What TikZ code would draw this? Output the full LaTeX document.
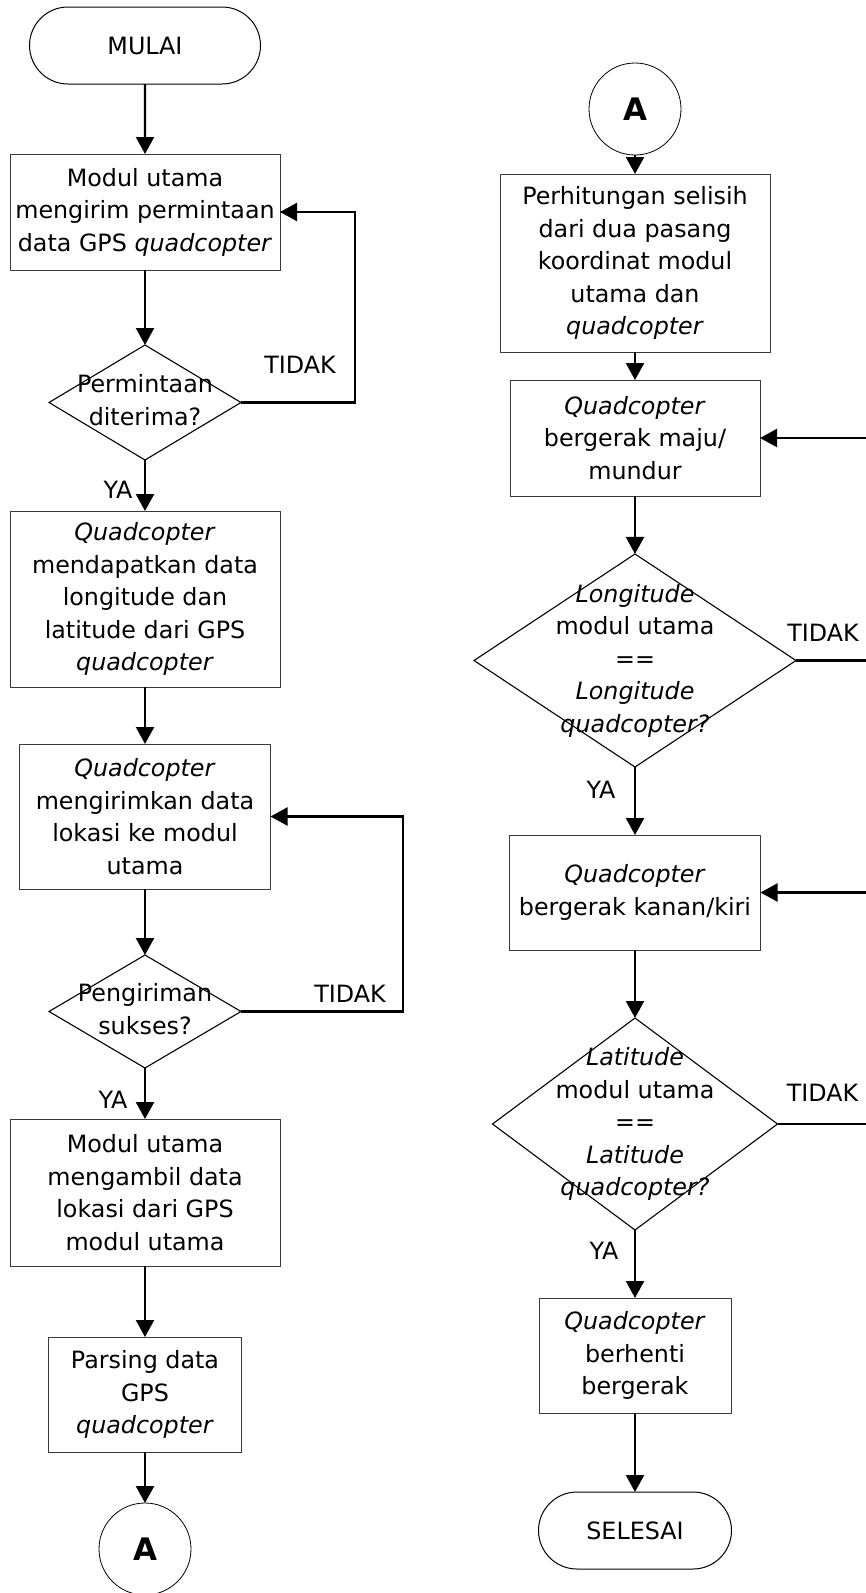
\documentclass[tikz,border=0pt]{standalone}
\usepackage{fontspec}
\setmainfont{DejaVu Sans}
\usepackage{xcolor}
\usepackage{tikz}
\usetikzlibrary{calc,positioning,shapes.geometric,shapes.misc,arrows.meta}
\definecolor{BoxLine}{HTML}{3A3A3A}
\definecolor{FlowLine}{HTML}{000000}
\newcommand{\flowfont}{\fontsize{23.8}{32.5}\selectfont}
\newcommand{\dtext}[1]{\vbox to 0pt{\vss\hbox to 0pt{\hss\begin{tabular}{@{}c@{}}#1\end{tabular}\hss}\vss}}

\begin{document}
\begin{tikzpicture}[x=1pt, y=-1pt,
    proc/.style={draw=BoxLine, line width=0.9pt, rectangle, align=center, inner sep=0pt, outer sep=0pt, font=\flowfont},
    dec/.style={draw=black, line width=1.1pt, diamond, inner sep=0pt, outer sep=0pt, font=\flowfont},
    term/.style={draw=black, line width=1pt, rounded rectangle, minimum width=231pt, minimum height=77pt, inner sep=0pt, outer sep=0pt, font=\flowfont},
    konek/.style={draw=black, line width=0.8pt, circle, minimum size=92pt, inner sep=0pt, outer sep=0pt, font=\bfseries\fontsize{31}{36}\selectfont},
    flow/.style={draw=FlowLine, line width=2.2pt, -{Triangle[width=18pt,length=17pt]}},
    lbl/.style={inner sep=0pt, font=\flowfont}]
        \clip (0,0) rectangle (866,1593);
        % kolom kiri
        \node[term] (mulai) at (145,45.5) {MULAI};
        \node[proc, minimum width=270pt, minimum height=116pt, below=70pt of mulai] (kirim) {Modul utama\\mengirim permintaan\\data GPS \textit{quadcopter}};
        \node[dec, minimum width=192pt, minimum height=115pt, below=75pt of kirim] (terima) {\dtext{Permintaan\\diterima?}};
        \node[proc, minimum width=270pt, minimum height=176pt, below=51pt of terima] (dapat) {\textit{Quadcopter}\\mendapatkan data\\longitude dan\\latitude dari GPS\\\textit{quadcopter}};
        \node[proc, minimum width=251pt, minimum height=145pt, below=57pt of dapat] (kirimlok) {\textit{Quadcopter}\\mengirimkan data\\lokasi ke modul\\utama};
        \node[dec, minimum width=192pt, minimum height=113pt, below=66pt of kirimlok] (sukses) {\dtext{Pengiriman\\sukses?}};
        \node[proc, minimum width=270pt, minimum height=147pt, below=51pt of sukses] (ambil) {Modul utama\\mengambil data\\lokasi dari GPS\\modul utama};
        \node[proc, minimum width=193pt, minimum height=115pt, below=71pt of ambil] (parsing) {Parsing data\\GPS\\\textit{quadcopter}};
        \node[konek, below=51pt of parsing] (konA) {A};
        % kolom kanan
        \node[konek] (konB) at (635,109) {A};
        \node[proc, minimum width=270pt, minimum height=178pt, below=19pt of konB] (selisih) {Perhitungan selisih\\dari dua pasang\\koordinat modul\\utama dan\\\textit{quadcopter}};
        \node[proc, minimum width=250pt, minimum height=116pt, below=28pt of selisih] (maju) {\textit{Quadcopter}\\bergerak maju/\\mundur};
        \node[dec, minimum width=322pt, minimum height=213pt, below=58pt of maju] (bujur) {\dtext{\textit{Longitude}\\modul utama\\==\\\textit{Longitude}\\\textit{quadcopter?}}};
        \node[proc, minimum width=251pt, minimum height=115pt, below=68pt of bujur] (kanan) {\textit{Quadcopter}\\bergerak kanan/kiri};
        \node[dec, minimum width=285pt, minimum height=212pt, below=68pt of kanan] (lintang) {\dtext{\textit{Latitude}\\modul utama\\==\\\textit{Latitude}\\\textit{quadcopter?}}};
        \node[proc, minimum width=192pt, minimum height=115pt, below=68pt of lintang] (henti) {\textit{Quadcopter}\\berhenti\\bergerak};
        \node[term, minimum width=193pt, below=79pt of henti] (selesai) {SELESAI};

        \draw[flow] (mulai) -- (kirim);
        \draw[flow] (kirim) -- (terima);
        \draw[flow] (terima) -- (dapat);
        \draw[flow] (dapat) -- (kirimlok);
        \draw[flow] (kirimlok) -- (sukses);
        \draw[flow] (sukses) -- (ambil);
        \draw[flow] (ambil) -- (parsing);
        \draw[flow] (parsing) -- (konA);
        \draw[flow] (terima.east) -- ++(114,0) |- (kirim.east);
        \draw[flow] (sukses.east) -- ++(162,0) |- (kirimlok.east);

        \draw[flow] (konB) -- (selisih);
        \draw[flow] (selisih) -- (maju);
        \draw[flow] (maju) -- (bujur);
        \draw[flow] (bujur) -- (kanan);
        \draw[flow] (kanan) -- (lintang);
        \draw[flow] (lintang) -- (henti);
        \draw[flow] (henti) -- (selesai);
        \draw[flow] (bujur.east) -- ++(90,0) |- (maju.east);
        \draw[flow] (lintang.east) -- ++(110,0) |- (kanan.east);

        \node[lbl] (tidakA) at ($(terima.east)+(59,-38)$) {TIDAK};
        \node[lbl] (tidakB) at ($(sukses.east)+(109,-18)$) {TIDAK};
        \node[lbl] (tidakC) at ($(bujur.east)+(27,-28)$) {TIDAK};
        \node[lbl] (tidakD) at ($(lintang.east)+(45,-31)$) {TIDAK};
        \node[lbl] (yaA) at ($(terima.south)+(-27,30)$) {YA};
        \node[lbl] (yaB) at ($(sukses.south)+(-32,32)$) {YA};
        \node[lbl] (yaC) at ($(bujur.south)+(-34,23)$) {YA};
        \node[lbl] (yaD) at ($(lintang.south)+(-31,21)$) {YA};
    \end{tikzpicture}
\end{document}
